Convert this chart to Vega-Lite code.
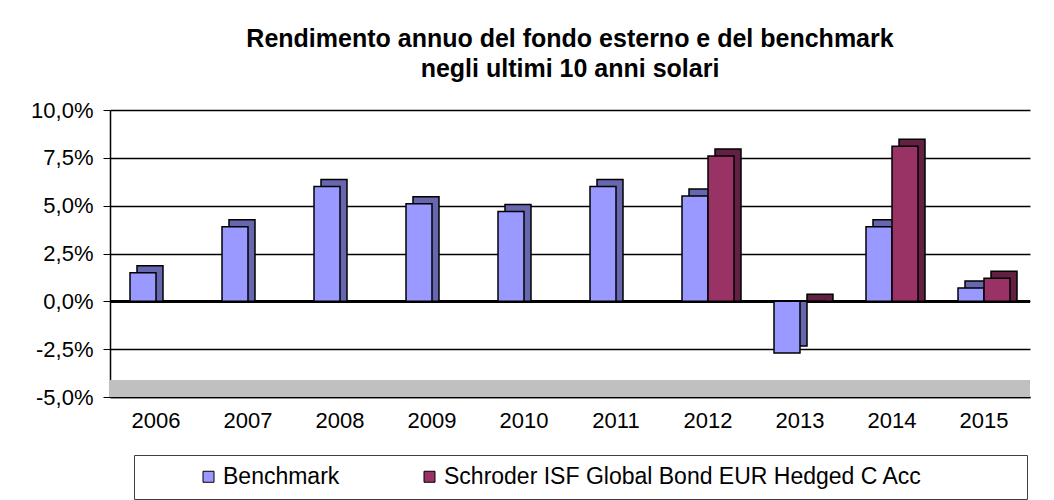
{
  "$schema": "https://vega.github.io/schema/vega-lite/v6.json",
  "width": 920,
  "height": 287,
  "autosize": {"type": "none"},
  "padding": {"left": 110, "top": 110, "right": 24, "bottom": 103},
  "background": "white",
  "title": {
    "text": ["Rendimento annuo del fondo esterno e del benchmark", "negli ultimi 10 anni solari"],
    "font": "Liberation Sans",
    "fontSize": 25,
    "fontWeight": "bold",
    "color": "black",
    "lineHeight": 30,
    "anchor": "middle",
    "offset": 16,
    "dy": 47
  },
  "data": {
    "values": [
      {"anno": "2006", "serie": "Benchmark", "valore": 1.5},
      {"anno": "2007", "serie": "Benchmark", "valore": 3.9},
      {"anno": "2008", "serie": "Benchmark", "valore": 6.0},
      {"anno": "2009", "serie": "Benchmark", "valore": 5.1},
      {"anno": "2010", "serie": "Benchmark", "valore": 4.7},
      {"anno": "2011", "serie": "Benchmark", "valore": 6.0},
      {"anno": "2012", "serie": "Benchmark", "valore": 5.5},
      {"anno": "2013", "serie": "Benchmark", "valore": -2.7},
      {"anno": "2014", "serie": "Benchmark", "valore": 3.9},
      {"anno": "2015", "serie": "Benchmark", "valore": 0.7},
      {"anno": "2012", "serie": "Schroder ISF Global Bond EUR Hedged C Acc", "valore": 7.6},
      {"anno": "2013", "serie": "Schroder ISF Global Bond EUR Hedged C Acc", "valore": 0.0},
      {"anno": "2014", "serie": "Schroder ISF Global Bond EUR Hedged C Acc", "valore": 8.1},
      {"anno": "2015", "serie": "Schroder ISF Global Bond EUR Hedged C Acc", "valore": 1.2}
    ]
  },
  "layer": [
    {
      "mark": {"type": "bar", "width": {"band": 0.5}, "opacity": 0},
      "encoding": {
        "x": {
          "field": "anno",
          "type": "nominal",
          "title": null,
          "scale": {"paddingInner": 0.435, "paddingOuter": 0.2175},
          "axis": {"labelAngle": 0, "labelFont": "Liberation Sans", "labelFontSize": 22, "labelColor": "black", "ticks": false, "labelPadding": 13, "domainColor": "black", "domainWidth": 1.5}
        },
        "y": {
          "field": "valore",
          "type": "quantitative",
          "scale": {"domain": [-5, 10], "nice": false},
          "title": null,
          "axis": {
            "values": [-5, -2.5, 0, 2.5, 5, 7.5, 10],
            "labelExpr": "replace(replace(format(datum.value, '.1f'), '.', ','), '\u2212', '-') + '%'",
            "labelFont": "Liberation Sans",
            "labelFontSize": 22,
            "labelColor": "black",
            "labelPadding": 10,
            "tickSize": 7,
            "tickColor": "black",
            "domainColor": "black",
            "domainWidth": 1.5,
            "grid": true,
            "gridColor": "black",
            "gridWidth": 1.5
          }
        }
      }
    },
    {
      "mark": {"type": "rect", "color": "#c0c0c0"},
      "encoding": {
        "x": {"value": 0},
        "x2": {"value": "width"},
        "y": {"datum": -5, "type": "quantitative"},
        "y2": {"datum": -4.15}
      }
    },
    {
      "mark": {"type": "rule", "color": "black", "strokeWidth": 2},
      "encoding": {"y": {"datum": 0, "type": "quantitative"}}
    },
    {
      "transform": [{"filter": "datum.serie === 'Benchmark'"}],
      "mark": {"type": "bar", "width": {"band": 0.5}, "xOffset": -6, "yOffset": -7, "color": "#6767b0", "stroke": "black", "strokeWidth": 1.5},
      "encoding": {
        "x": {"field": "anno", "type": "nominal", "title": null},
        "y": {"field": "valore", "type": "quantitative", "title": null},
        "y2": {"datum": 0}
      }
    },
    {
      "transform": [{"filter": "datum.serie !== 'Benchmark'"}],
      "mark": {"type": "bar", "width": {"band": 0.5}, "xOffset": 20, "yOffset": -7, "color": "#622042", "stroke": "black", "strokeWidth": 1.5},
      "encoding": {
        "x": {"field": "anno", "type": "nominal", "title": null},
        "y": {"field": "valore", "type": "quantitative", "title": null},
        "y2": {"datum": 0}
      }
    },
    {
      "transform": [{"filter": "datum.serie === 'Benchmark'"}],
      "mark": {"type": "bar", "width": {"band": 0.5}, "xOffset": -13, "stroke": "black", "strokeWidth": 1.5},
      "encoding": {
        "x": {"field": "anno", "type": "nominal", "title": null},
        "y": {"field": "valore", "type": "quantitative", "title": null},
        "y2": {"datum": 0},
        "color": {
          "field": "serie",
          "type": "nominal",
          "scale": {"domain": ["Benchmark", "Schroder ISF Global Bond EUR Hedged C Acc"], "range": ["#9999ff", "#993366"]},
          "legend": {
            "orient": "none",
            "legendX": 24,
            "legendY": 345,
            "direction": "horizontal",
            "title": " ",
            "titleOrient": "right",
            "titlePadding": 95,
            "strokeColor": "#404040",
            "padding": 10,
            "symbolType": "square",
            "symbolSize": 121,
            "symbolStrokeColor": "black",
            "symbolStrokeWidth": 1,
            "symbolOffset": 53,
            "labelOffset": 3,
            "columnPadding": 25,
            "labelFont": "Liberation Sans",
            "labelFontSize": 23,
            "labelColor": "black",
            "labelLimit": 700
          }
        }
      }
    },
    {
      "transform": [{"filter": "datum.serie !== 'Benchmark'"}],
      "mark": {"type": "bar", "width": {"band": 0.5}, "xOffset": 13, "stroke": "black", "strokeWidth": 1.5},
      "encoding": {
        "x": {"field": "anno", "type": "nominal", "title": null},
        "y": {"field": "valore", "type": "quantitative", "title": null},
        "y2": {"datum": 0},
        "color": {"field": "serie", "type": "nominal"}
      }
    }
  ],
  "resolve": {"scale": {"color": "shared"}},
  "config": {"view": {"stroke": null}}
}
